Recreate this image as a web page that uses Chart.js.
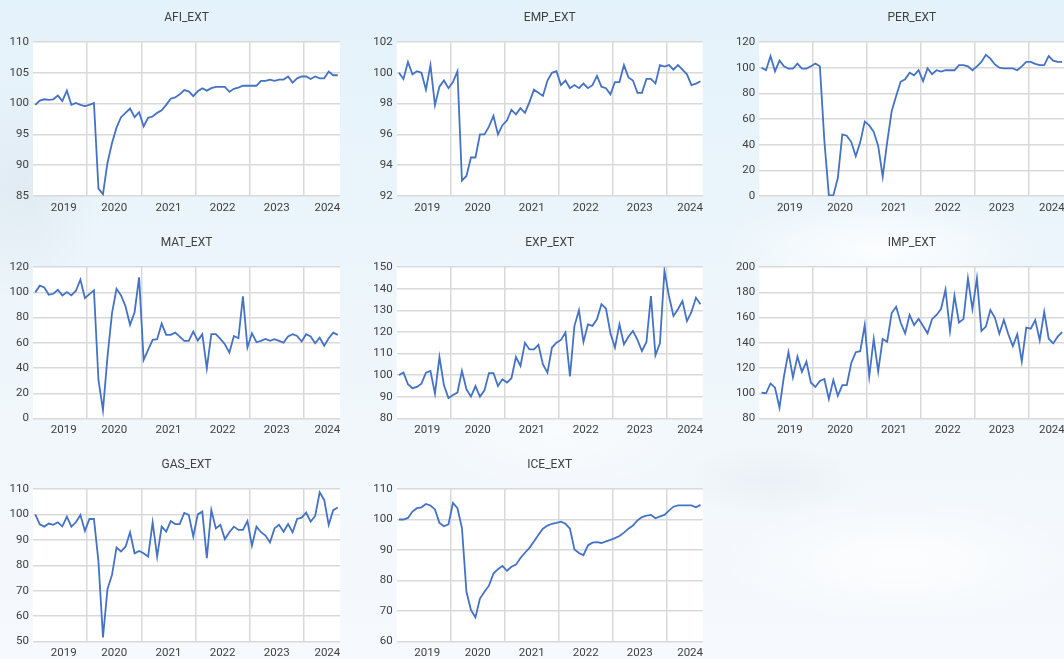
<!DOCTYPE html>
<html>
<head>
<meta charset="utf-8">
<script src="https://cdn.jsdelivr.net/npm/chart.js@4/dist/chart.umd.min.js"></script>
<style>
  html, body { margin: 0; padding: 0; }
  body {
    width: 1064px; height: 659px; overflow: hidden; position: relative;
    background:
      radial-gradient(ellipse 230px 80px at 880px 250px, rgba(255,255,255,0.85), rgba(255,255,255,0) 70%),
      radial-gradient(ellipse 260px 90px at 900px 560px, rgba(255,255,255,0.8), rgba(255,255,255,0) 70%),
      radial-gradient(ellipse 200px 90px at 560px 430px, rgba(255,255,255,0.6), rgba(255,255,255,0) 70%),
      radial-gradient(ellipse 120px 160px at 20px 190px, rgba(205,212,222,0.3), rgba(205,212,222,0) 70%),
      radial-gradient(ellipse 130px 50px at 770px 480px, rgba(215,222,230,0.3), rgba(215,222,230,0) 70%),
      linear-gradient(180deg, #e4f2fb 0%, #ebf5fb 35%, #f1f7fb 65%, #f6f9fd 100%);
  }
  .panel { position: absolute; }
</style>
</head>
<body>
<div class="panel" id="p0"><canvas id="c0"></canvas></div>
<div class="panel" id="p1"><canvas id="c1"></canvas></div>
<div class="panel" id="p2"><canvas id="c2"></canvas></div>
<div class="panel" id="p3"><canvas id="c3"></canvas></div>
<div class="panel" id="p4"><canvas id="c4"></canvas></div>
<div class="panel" id="p5"><canvas id="c5"></canvas></div>
<div class="panel" id="p6"><canvas id="c6"></canvas></div>
<div class="panel" id="p7"><canvas id="c7"></canvas></div>
<script>
// ---------- DATA ----------
const months = [
  '2019-01','2019-02','2019-03','2019-04','2019-05','2019-06','2019-07','2019-08','2019-09','2019-10','2019-11','2019-12',
  '2020-01','2020-02','2020-03','2020-04','2020-05','2020-06','2020-07','2020-08','2020-09','2020-10','2020-11','2020-12',
  '2021-01','2021-02','2021-03','2021-04','2021-05','2021-06','2021-07','2021-08','2021-09','2021-10','2021-11','2021-12',
  '2022-01','2022-02','2022-03','2022-04','2022-05','2022-06','2022-07','2022-08','2022-09','2022-10','2022-11','2022-12',
  '2023-01','2023-02','2023-03','2023-04','2023-05','2023-06','2023-07','2023-08','2023-09','2023-10','2023-11','2023-12',
  '2024-01','2024-02','2024-03','2024-04','2024-05','2024-06','2024-07','2024-08'
];
const yearLabels = ['2019','2020','2021','2022','2023','2024'];

const AFI_EXT = [99.8,100.5,100.7,100.6,100.7,101.3,100.4,102.1,99.8,100.1,
  99.8,99.6,99.8,100.1,86.2,85.3,90.4,93.6,96.1,97.8,
  98.5,99.2,97.8,98.6,96.3,97.7,97.9,98.5,98.9,99.8,
  100.8,101.0,101.5,102.2,102.0,101.2,102.0,102.5,102.1,102.5,
  102.7,102.7,102.7,101.9,102.4,102.6,102.9,102.9,102.9,102.9,
  103.7,103.7,103.9,103.7,103.9,103.9,104.4,103.4,104.1,104.4,
  104.4,104.0,104.4,104.1,104.1,105.2,104.6,104.6];
const EMP_EXT = [100.0,99.6,100.7,99.9,100.1,100.0,98.9,100.5,97.9,99.1,
  99.5,99.0,99.4,100.1,93.0,93.3,94.5,94.5,96.0,96.0,
  96.5,97.2,96.0,96.6,96.9,97.6,97.3,97.7,97.4,98.1,
  98.9,98.7,98.5,99.5,100.0,100.1,99.2,99.5,99.0,99.2,
  99.0,99.3,99.0,99.2,99.8,99.1,99.0,98.6,99.4,99.4,
  100.5,99.7,99.5,98.7,98.7,99.6,99.6,99.3,100.5,100.4,
  100.5,100.2,100.5,100.2,99.9,99.2,99.3,99.45];
const PER_EXT = [100,98,109,97.2,105.5,101.1,99.3,99.3,103.2,99.3,
  99.3,101.1,103.2,101.1,43,0.5,0.5,14,48,47,
  42,31,42,58,55,50,39,15,42,66,
  78,89,91,96,94,98,89.5,99.5,95,98,
  97,98,98,98,102,102,101,98,101,104.5,
  110,107,102.5,100,99.5,99.5,99.5,98,101,104.5,
  104.5,103,102,102,109,105.5,104.5,104.5];
const MAT_EXT = [99.9,105.2,103.8,98,98.8,102,97.5,100.1,97.5,101.2,
  110,95.4,98.5,101.5,30.5,6.6,49,83.4,102.8,97.5,
  88.7,74.2,84.2,111.8,46.4,54.3,62.3,62.8,75.2,66.2,
  66.2,68,64.9,61.5,61.5,68.9,61.7,66.8,39.7,66.8,
  66.8,63,58.8,52.2,65.4,63.6,96.7,56.2,67.5,60.4,
  61.5,63,61.5,62.8,61.5,60.1,64.9,66.8,65.4,61,
  66.8,65,59.6,64,57.7,63.6,68,66.2];
const EXP_EXT = [100.1,101.2,95.8,94,94.6,96.1,101.2,102,91.5,108.4,
  95.3,89.4,90.9,92,102,93.5,90.1,95,90.1,93,
  101,101,95,98.1,96.6,98.6,108.4,104.3,115,111.9,
  111.9,114,105,101.2,112.8,115,116.3,119.7,99.4,122.8,
  130,115.4,123.5,122.8,125.8,132.8,130.8,119.4,112.8,123.5,
  114.3,117.8,120.5,116.3,111.2,115.4,136.6,109.2,114.8,148.2,
  136.6,127.4,130.5,134.3,125,129.2,135.8,132.8];
const IMP_EXT = [100.4,100,107.8,104.4,88.5,113.6,132.5,112.6,129,117,
  125,108.3,105,109.7,111.3,95.4,110.5,98,106.5,106.5,
  124,132.5,133.3,154,113.3,143,117.3,143,140.8,163.5,
  168.5,156,147.5,162,154,159,153.3,147.5,158.7,162,
  166.7,182,149.3,177.3,156,158.7,191,166.7,191,149.3,
  152.8,165.9,160,147.2,158,146.7,137.3,146.7,125.3,152,
  151.2,158,142,164.5,143.2,139.5,144.8,148.5];
const GAS_EXT = [100,96.1,95.2,96.4,95.9,96.9,95.3,99.1,95.2,96.9,
  99.8,93.5,98.2,98.2,81.4,51.6,70.7,76.2,87,85.4,
  87.3,93,84.7,85.6,84.7,83.4,96.9,83.4,95.2,93.2,
  97.4,96.2,96.2,100.6,99.8,91.3,100,101.1,82.8,101.7,
  94.5,95.9,90.3,93,95.2,93.9,93.9,97.4,87.7,95.2,
  93,91.7,89,94.5,95.9,93.2,96.2,93,98.2,98.7,
  100.7,97.2,99.4,108.7,105.7,95.9,101.7,102.7];
const ICE_EXT = [100,100,100.5,102.6,103.7,104,105.1,104.6,103.3,98.9,
  97.8,98.4,105.4,103.7,97.2,76.3,70.3,67.9,74.1,76.3,
  78.3,82.3,83.7,84.8,83.2,84.5,85.2,87.4,89.1,90.7,
  92.8,95,97,98,98.6,98.9,99.3,98.6,97,90.2,
  89,88.3,91.5,92.4,92.6,92.3,92.8,93.3,93.9,94.6,
  95.7,97,98,99.7,100.8,101.3,101.5,100.4,101,101.5,
  102.9,104.2,104.6,104.6,104.6,104.6,104,104.8];

const titles = ['AFI_EXT','EMP_EXT','PER_EXT','MAT_EXT','EXP_EXT','IMP_EXT','GAS_EXT','ICE_EXT'];
const seriesList = [AFI_EXT, EMP_EXT, PER_EXT, MAT_EXT, EXP_EXT, IMP_EXT, GAS_EXT, ICE_EXT];
const yMins  = [85, 92, 0, 0, 80, 80, 50, 60];
const yMaxs  = [110, 102, 120, 120, 150, 200, 110, 110];
const ySteps = [5, 2, 20, 20, 10, 20, 10, 10];

// ---------- LAYOUT ----------
const colLeft = [0, 355, 710];
const colWidth = [348, 355, 360];
const plotLeftRel = [33, 41.7, 49.3];
const plotRightRel = [340, 347.7, 355.3];
const rowTop = [0, 225, 447];
const plotH = [154, 151.5, 152.5];
const TOP_SPACE = 42;
const XAXIS_H = 24;

const FONT = 'Roboto, "Open Sans", sans-serif';
const TEXT_COLOR = '#404040';
const GRID_COLOR = '#d9d9d9';
const LINE_COLOR = '#4472C4';

Chart.defaults.font.family = FONT;
Chart.defaults.color = TEXT_COLOR;

// year boundaries (between Dec and Jan slots) and year-label positions, in month-index units
const yearBoundaries = [11.5, 23.5, 35.5, 47.5, 59.5];
const yearLabelPos = [6.3, 17.5, 29.5, 41.5, 53.5, 64.7];

const plotBg = {
  id: 'plotBg',
  beforeDraw(chart) {
    const a = chart.chartArea, c = chart.ctx;
    c.save(); c.fillStyle = '#ffffff';
    c.fillRect(a.left, a.top, a.right - a.left, a.bottom - a.top);
    c.restore();
  }
};

seriesList.forEach((vals, k) => {
  const col = k % 3, row = Math.floor(k / 3);
  const h = Math.round(TOP_SPACE + plotH[row] + XAXIS_H);
  const w = colWidth[col];
  const div = document.getElementById('p' + k);
  div.style.left = colLeft[col] + 'px';
  div.style.top = rowTop[row] + 'px';
  div.style.width = w + 'px';
  div.style.height = h + 'px';
  const xh = h - TOP_SPACE - plotH[row];

  new Chart(document.getElementById('c' + k), {
    type: 'line',
    data: {
      datasets: [{
        label: titles[k],
        data: vals.map((v, i) => ({ x: i, y: v })),
        borderColor: LINE_COLOR,
        borderWidth: 1.8,
        pointRadius: 0,
        tension: 0,
        fill: false
      }]
    },
    options: {
      responsive: true,
      maintainAspectRatio: false,
      animation: false,
      events: [],
      layout: { padding: { left: 0, top: 0, bottom: 0, right: w - plotRightRel[col] } },
      plugins: {
        legend: { display: false },
        tooltip: { enabled: false },
        title: {
          display: true,
          text: titles[k],
          fullSize: false,
          color: TEXT_COLOR,
          font: { family: FONT, size: 12, weight: 'normal' },
          padding: { top: 10.5, bottom: TOP_SPACE - 10.5 - 14.4 }
        }
      },
      scales: {
        x: {
          type: 'linear',
          min: -0.5,
          max: months.length - 0.5,
          afterBuildTicks: axis => {
            axis.ticks = yearBoundaries.concat(yearLabelPos).sort((a, b) => a - b).map(v => ({ value: v }));
          },
          afterFit: s => { s.height = xh; },
          border: { display: false },
          grid: {
            drawTicks: false,
            lineWidth: 1.5,
            color: ctx => (ctx.tick && yearBoundaries.includes(ctx.tick.value)) ? GRID_COLOR : 'rgba(0,0,0,0)'
          },
          ticks: {
            autoSkip: false,
            maxRotation: 0,
            minRotation: 0,
            padding: 5,
            color: TEXT_COLOR,
            font: { size: 11.5 },
            callback: v => {
              const idx = yearLabelPos.indexOf(v);
              return idx >= 0 ? yearLabels[idx] : '';
            }
          }
        },
        y: {
          min: yMins[k],
          max: yMaxs[k],
          afterFit: s => { s.width = plotLeftRel[col]; },
          border: { display: false },
          grid: { drawTicks: false, color: GRID_COLOR, lineWidth: 1.5 },
          ticks: {
            stepSize: ySteps[k],
            padding: 4,
            color: TEXT_COLOR,
            font: { size: 11.5 }
          }
        }
      }
    },
    plugins: [plotBg]
  });
});
</script>
</body>
</html>
